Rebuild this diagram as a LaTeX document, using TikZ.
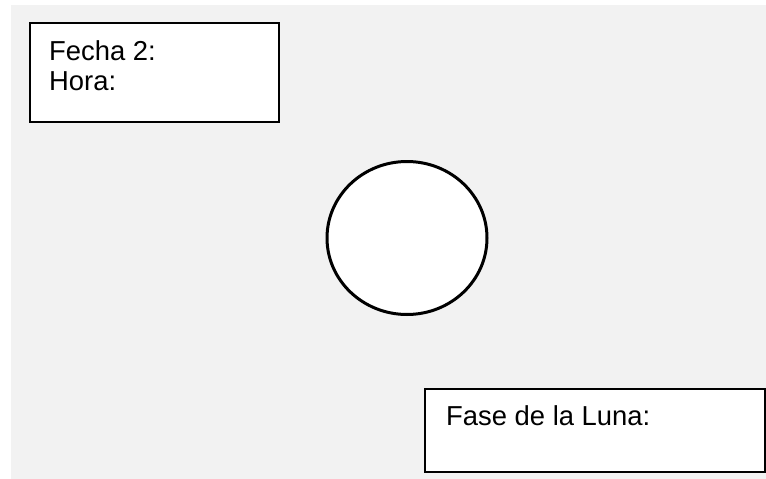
\documentclass[tikz,border=0pt]{standalone}
\usepackage{fontspec}
\setmainfont{Liberation Sans}
\usetikzlibrary{shapes.geometric}
\definecolor{bggray}{HTML}{F2F2F2}
\tikzset{
  infobox/.style={draw=black, line width=1.6pt, fill=white, rectangle, inner sep=0pt, anchor=north west},
  lbl/.style={anchor=base west, inner sep=0pt, font=\fontsize{27.4}{30}\selectfont},
  moon/.style={draw=black, line width=3pt, fill=white, ellipse, inner sep=0pt, minimum width=160pt, minimum height=153pt}
}
\begin{document}
\begin{tikzpicture}[x=1pt,y=-1pt]
\useasboundingbox (0,0) rectangle (766,479);
\fill[bggray] (11,5) rectangle (766,479);
\node[infobox, minimum width=249pt, minimum height=99pt] (box1) at (29,22) {};
\node[lbl] (fecha) at (49,60) {Fecha 2:};
\node[lbl] (hora) at (49,90) {Hora:};
\node[moon] (luna) at (407,238) {};
\node[infobox, minimum width=340pt, minimum height=83pt] (box2) at (424,388) {};
\node[lbl] (fase) at (446,425) {Fase de la Luna:};
\end{tikzpicture}
\end{document}
